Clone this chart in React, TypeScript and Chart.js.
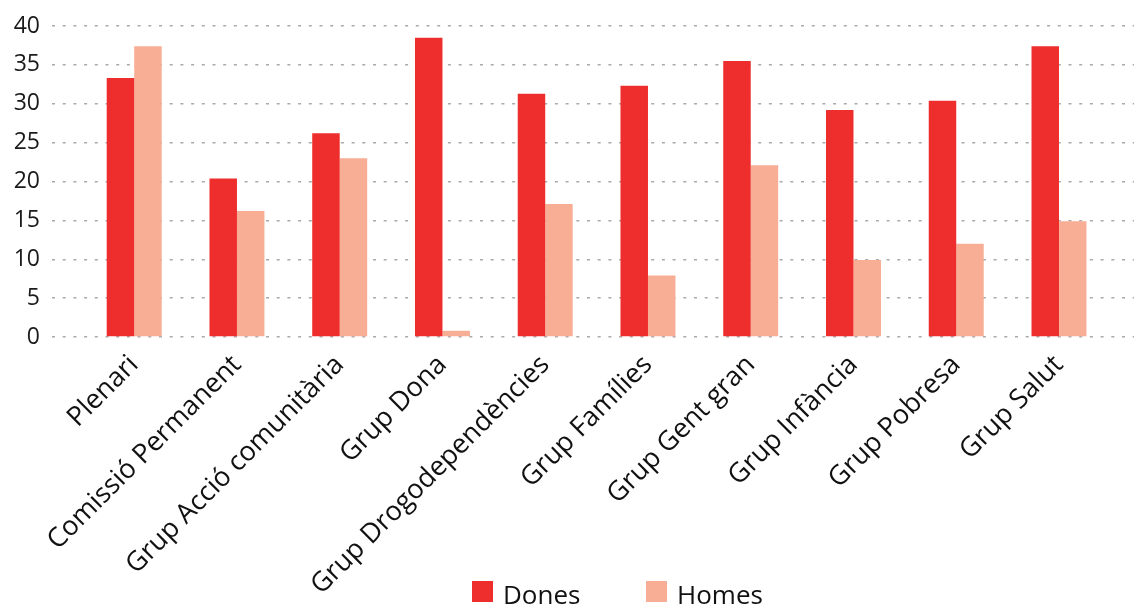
import React, { useEffect, useRef } from "react";
import { Chart, registerables } from "chart.js";

Chart.register(...registerables);

const categories = [
  "Plenari",
  "Comissió Permanent",
  "Grup Acció comunitària",
  "Grup Dona",
  "Grup Drogodependències",
  "Grup Famílies",
  "Grup Gent gran",
  "Grup Infància",
  "Grup Pobresa",
  "Grup Salut",
];
const dones = [33.3, 20.4, 26.2, 38.5, 31.3, 32.3, 35.5, 29.2, 30.4, 37.4];
const homes = [37.4, 16.2, 23.0, 0.8, 17.1, 7.9, 22.1, 9.9, 12.0, 14.9];
const seriesNames = ["Dones", "Homes"];
const yTicks = [0, 5, 10, 15, 20, 25, 30, 35, 40];

const RED = "#ee2e2c";
const SALMON = "#f8ad95";
const FONT = "'Open Sans', 'Noto Sans', sans-serif";

export default function App() {
  const ref = useRef<HTMLCanvasElement | null>(null);

  useEffect(() => {
    document.body.style.margin = "0";
    const canvas = ref.current;
    if (!canvas) return;
    const chart = new Chart(canvas, {
      type: "bar",
      data: {
        datasets: [
          {
            label: seriesNames[0],
            data: dones.map((v, i) => ({ x: i, y: v })),
            backgroundColor: RED,
            borderWidth: 0,
          },
          {
            label: seriesNames[1],
            data: homes.map((v, i) => ({ x: i, y: v })),
            backgroundColor: SALMON,
            borderWidth: 0,
          },
        ],
      },
      options: {
        animation: false,
        responsive: true,
        maintainAspectRatio: false,
        layout: { padding: { top: 26, left: 0, right: 0, bottom: 0 } },
        datasets: { bar: { categoryPercentage: 0.535, barPercentage: 1.0 } },
        plugins: {
          legend: { display: false },
          tooltip: { enabled: false },
        },
        scales: {
          x: {
            type: "linear",
            offset: false,
            min: -0.8,
            max: 9.73,
            grid: { display: false },
            border: { display: false },
            afterBuildTicks: (scale: any) => {
              scale.ticks = categories.map((_, i) => ({ value: i }));
            },
            afterFit: (scale: any) => {
              scale.height = 267;
            },
            ticks: {
              autoSkip: false,
              minRotation: 45,
              maxRotation: 45,
              padding: 4,
              color: "#111",
              font: { family: FONT, size: 27 },
              callback: (v: any) => categories[Math.round(Number(v))] ?? "",
            },
          },
          y: {
            min: 0,
            max: 40,
            afterBuildTicks: (scale: any) => {
              scale.ticks = yTicks.map((v) => ({ value: v }));
            },
            afterFit: (scale: any) => {
              scale.width = 52;
            },
            border: { display: false, dash: [3, 7.7] },
            grid: {
              color: "#aaaaaa",
              lineWidth: 1.5,
              drawTicks: false,
            },
            ticks: {
              padding: 12,
              color: "#1a1a1a",
              font: { family: FONT, size: 23 },
            },
          },
        },
      },
    } as any);
    return () => chart.destroy();
  }, []);

  const legendText: React.CSSProperties = {
    position: "absolute",
    top: 581,
    fontFamily: FONT,
    fontSize: 26,
    lineHeight: "26px",
    color: "#111",
    whiteSpace: "nowrap",
  };
  const box: React.CSSProperties = {
    position: "absolute",
    top: 581,
    width: 21,
    height: 21,
  };

  return (
    <div
      style={{
        position: "absolute",
        left: 0,
        top: 0,
        width: 1134,
        height: 604,
        overflow: "hidden",
        background: "#fff",
      }}
    >
      <canvas ref={ref} />
      <div style={{ ...box, left: 472, background: RED }} />
      <div style={{ ...legendText, left: 503 }}>{seriesNames[0]}</div>
      <div style={{ ...box, left: 646, background: SALMON }} />
      <div style={{ ...legendText, left: 677 }}>{seriesNames[1]}</div>
    </div>
  );
}
